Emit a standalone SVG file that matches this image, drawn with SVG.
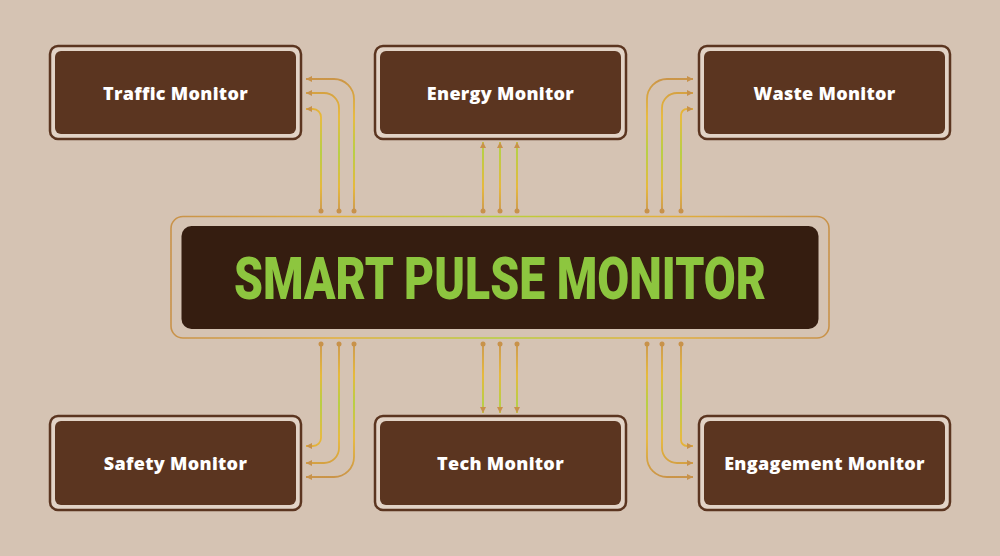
<svg xmlns="http://www.w3.org/2000/svg" width="1000" height="556" viewBox="0 0 1000 556">
<defs>
<style>
.frame{fill:#e2d3c6;stroke:#5b3520;stroke-width:2.5}
.fill{fill:#5b3520}
.lbl{font-family:"Open Sans","Liberation Sans",sans-serif;font-weight:800;font-size:18px;letter-spacing:0.3px;fill:#ffffff;text-anchor:middle}
.ct{fill:none;stroke:url(#gT);stroke-width:1.8;marker-end:url(#ah)}
.cb{fill:none;stroke:url(#gB);stroke-width:1.8;marker-end:url(#ah)}
.dot{fill:#c8924a}
</style>
<linearGradient id="gT" gradientUnits="userSpaceOnUse" x1="0" y1="75" x2="0" y2="215">
<stop offset="0" stop-color="#c8924a"/>
<stop offset="0.3" stop-color="#e9b935"/>
<stop offset="0.55" stop-color="#b5d03a"/>
<stop offset="0.8" stop-color="#e8b830"/>
<stop offset="1" stop-color="#c8924a"/>
</linearGradient>
<linearGradient id="gB" gradientUnits="userSpaceOnUse" x1="0" y1="340" x2="0" y2="480">
<stop offset="0" stop-color="#c8924a"/>
<stop offset="0.25" stop-color="#e8b830"/>
<stop offset="0.45" stop-color="#b5d03a"/>
<stop offset="0.7" stop-color="#e9b935"/>
<stop offset="1" stop-color="#c8924a"/>
</linearGradient>
<linearGradient id="gF" gradientUnits="userSpaceOnUse" x1="171" y1="0" x2="829" y2="0">
<stop offset="0" stop-color="#c8924a"/>
<stop offset="0.25" stop-color="#e3b03a"/>
<stop offset="0.5" stop-color="#b8d03a"/>
<stop offset="0.75" stop-color="#e3b03a"/>
<stop offset="1" stop-color="#c8924a"/>
</linearGradient>
<marker id="ah" markerUnits="userSpaceOnUse" markerWidth="7" markerHeight="6" refX="6" refY="3" orient="auto">
<path d="M0,0 L6,3 L0,6 z" fill="#c8924a"/>
</marker>
</defs>
<rect width="1000" height="556" fill="#d5c3b3"/>

<g id="connectors">
<path class="ct" d="M354,211 V99 A20,20 0 0 0 334,79 H306"/>
<path class="ct" d="M339,211 V108 A15,15 0 0 0 324,93 H306"/>
<path class="ct" d="M321,211 V117 A8,8 0 0 0 313,109 H306"/>
<path class="ct" d="M483,211 V142"/>
<path class="ct" d="M500,211 V142"/>
<path class="ct" d="M517,211 V142"/>
<path class="ct" d="M647,211 V99 A20,20 0 0 1 667,79 H693"/>
<path class="ct" d="M662,211 V108 A15,15 0 0 1 677,93 H693"/>
<path class="ct" d="M681,211 V115 A6,6 0 0 1 687,109 H693"/>
<path class="cb" d="M321,344 V438 A8,8 0 0 1 313,446 H306"/>
<path class="cb" d="M339,344 V448 A15,15 0 0 1 324,463 H306"/>
<path class="cb" d="M354,344 V457 A20,20 0 0 1 334,477 H306"/>
<path class="cb" d="M483,344 V413"/>
<path class="cb" d="M500,344 V413"/>
<path class="cb" d="M517,344 V413"/>
<path class="cb" d="M681,344 V440 A6,6 0 0 0 687,446 H693"/>
<path class="cb" d="M662,344 V448 A15,15 0 0 0 677,463 H693"/>
<path class="cb" d="M647,344 V457 A20,20 0 0 0 667,477 H693"/>
<g>
<circle class="dot" cx="321" cy="211" r="2.5"/><circle class="dot" cx="339" cy="211" r="2.5"/><circle class="dot" cx="354" cy="211" r="2.5"/>
<circle class="dot" cx="483" cy="211" r="2.5"/><circle class="dot" cx="500" cy="211" r="2.5"/><circle class="dot" cx="517" cy="211" r="2.5"/>
<circle class="dot" cx="647" cy="211" r="2.5"/><circle class="dot" cx="662" cy="211" r="2.5"/><circle class="dot" cx="681" cy="211" r="2.5"/>
<circle class="dot" cx="321" cy="344" r="2.5"/><circle class="dot" cx="339" cy="344" r="2.5"/><circle class="dot" cx="354" cy="344" r="2.5"/>
<circle class="dot" cx="483" cy="344" r="2.5"/><circle class="dot" cx="500" cy="344" r="2.5"/><circle class="dot" cx="517" cy="344" r="2.5"/>
<circle class="dot" cx="647" cy="344" r="2.5"/><circle class="dot" cx="662" cy="344" r="2.5"/><circle class="dot" cx="681" cy="344" r="2.5"/>
</g>
</g>

<g id="center">
<rect x="171" y="216.5" width="658" height="121.5" rx="12" fill="none" stroke="url(#gF)" stroke-width="1.6"/>
<rect x="181.5" y="226" width="637" height="103" rx="10" fill="#351d10"/>
<text x="500" y="299" text-anchor="middle" font-family="Roboto,'Liberation Sans',sans-serif" font-weight="900" font-size="59" fill="#8dc63f" textLength="532" lengthAdjust="spacingAndGlyphs">SMART PULSE MONITOR</text>
</g>

<g id="traffic">
<rect class="frame" x="50" y="46" width="251" height="93" rx="8"/>
<rect class="fill" x="55" y="51" width="241" height="83" rx="6"/>
<text class="lbl" x="175.5" y="100">Traffic Monitor</text>
</g>
<g id="energy">
<rect class="frame" x="375" y="46" width="251" height="93" rx="8"/>
<rect class="fill" x="380" y="51" width="241" height="83" rx="6"/>
<text class="lbl" x="500.5" y="100">Energy Monitor</text>
</g>
<g id="waste">
<rect class="frame" x="699" y="46" width="251" height="93" rx="8"/>
<rect class="fill" x="704" y="51" width="241" height="83" rx="6"/>
<text class="lbl" x="824.5" y="100">Waste Monitor</text>
</g>
<g id="safety">
<rect class="frame" x="50" y="416" width="251" height="94" rx="8"/>
<rect class="fill" x="55" y="421" width="241" height="84" rx="6"/>
<text class="lbl" x="175.5" y="470">Safety Monitor</text>
</g>
<g id="tech">
<rect class="frame" x="375" y="416" width="251" height="94" rx="8"/>
<rect class="fill" x="380" y="421" width="241" height="84" rx="6"/>
<text class="lbl" x="500.5" y="470">Tech Monitor</text>
</g>
<g id="engagement">
<rect class="frame" x="699" y="416" width="251" height="94" rx="8"/>
<rect class="fill" x="704" y="421" width="241" height="84" rx="6"/>
<text class="lbl" x="824.5" y="470">Engagement Monitor</text>
</g>
</svg>
